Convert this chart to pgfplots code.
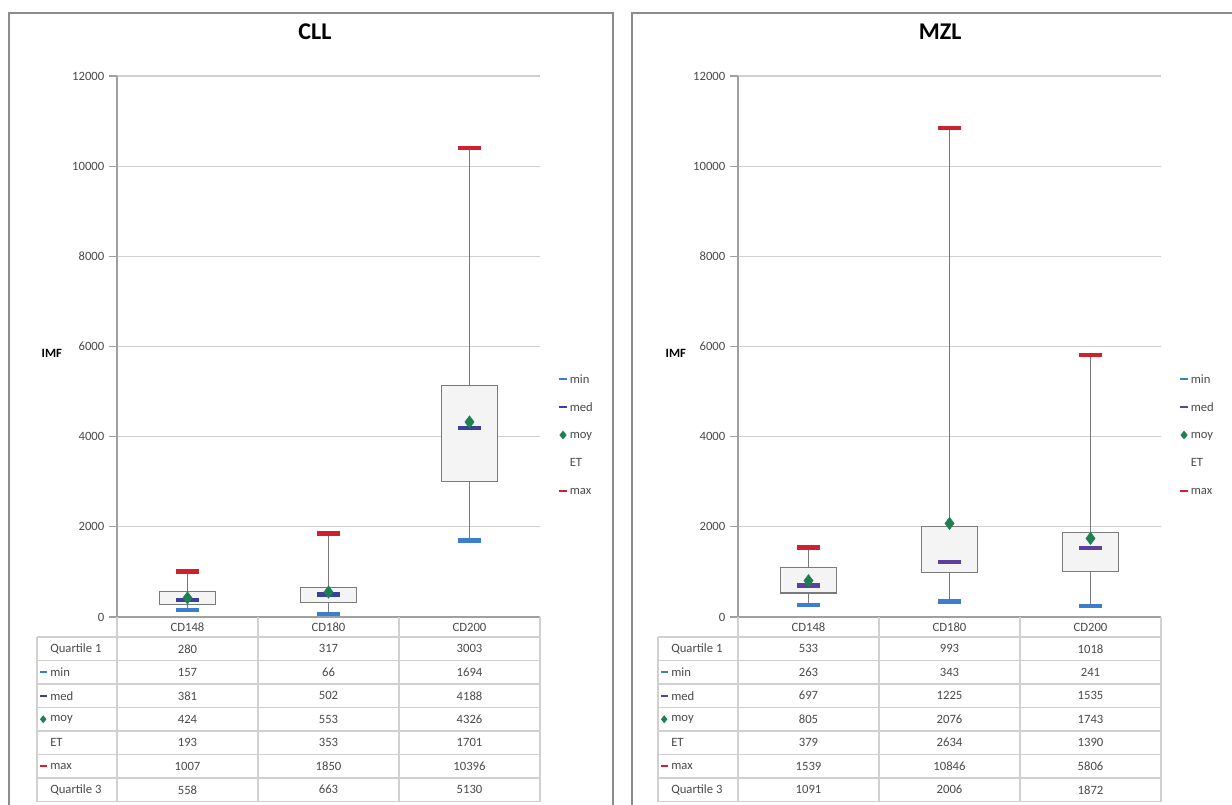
\documentclass[border=0pt]{standalone}
\usepackage{pgfplots}
\pgfplotsset{compat=1.18}
\usepackage{pgfplotstable}
\usepackage{fontspec}
\setmainfont{Carlito}

\definecolor{minc}{HTML}{3A7FCF}
\definecolor{medc}{HTML}{38409A}
\definecolor{medcb}{HTML}{5E3F9E}
\definecolor{moyc}{HTML}{1E8050}
\definecolor{maxc}{HTML}{D0202E}
\definecolor{gridc}{HTML}{D0D0D0}
\definecolor{axc}{HTML}{A0A0A0}
\definecolor{txt}{HTML}{4A4A4A}
\definecolor{boxfill}{HTML}{F4F4F4}
\definecolor{boxdraw}{HTML}{7A7A7A}
\definecolor{framec}{HTML}{8C8C8C}

\pgfplotstableread{
pos q1 min med moy et max q3
0 280 157 381 424 193 1007 558
1 317 66 502 553 353 1850 663
2 3003 1694 4188 4326 1701 10396 5130
}\cll

\pgfplotstableread{
pos q1 min med moy et max q3
0 533 263 697 805 379 1539 1091
1 993 343 1225 2076 2634 10846 2006
2 1018 241 1535 1743 1390 5806 1872
}\mzl

\newcommand{\smallfont}{\fontsize{9.5}{11}\selectfont}

\pgfplotsset{
  dashleg/.style={legend image code/.code={\draw[line width=1.6pt] (0pt,0pt) -- (5.5pt,0pt);}},
  diamleg/.style={legend image code/.code={\fill (2.75pt,2.9pt) -- (5.2pt,0pt) -- (2.75pt,-2.9pt) -- (0.3pt,0pt) -- cycle;}},
  noleg/.style={draw=none, fill=none, legend image code/.code={\path (0pt,0pt) -- (5.5pt,0pt);}},
  dmark/.style={only marks, mark=-, mark size=8.5pt, mark options={line width=3.2pt}, forget plot},
  whisk/.style={draw=boxdraw, line width=0.8pt, forget plot},
  bx/.style={fill=boxfill, draw=boxdraw, line width=0.9pt, forget plot},
  panel/.style={
    scale only axis, width=317.25pt, height=405.75pt, anchor=south west,
    xmin=-0.5, xmax=2.5, ymin=0, ymax=12000,
    ytick={0,2000,4000,6000,8000,10000,12000}, xtick=\empty,
    scaled y ticks=false,
    axis x line*=bottom, axis y line*=left,
    axis line style={axc, line width=0.8pt},
    ymajorgrids, grid style={gridc, line width=0.8pt},
    tick align=outside, major tick length=6pt,
    ytick style={axc, line width=0.8pt},
    yticklabel style={font=\smallfont, text=txt},
    /pgf/number format/1000 sep={}, /pgf/number format/assume math mode=true,
    title style={font=\fontsize{18}{20}\selectfont\bfseries, anchor=center},
    every axis y label/.style={anchor=center, font=\smallfont\bfseries},
    legend style={anchor=west, draw=none, fill=none, inner sep=0pt, row sep=12.6pt,
      font=\smallfont, text=txt,
      nodes={inner xsep=1.5pt, inner ysep=0pt, text height=1.5ex, text depth=0.25ex}},
    legend cell align=left,
  }
}

\newcommand{\datatable}[3]{%
\begin{scope}[x=0.75pt,y=-0.75pt,shift={(#1,0)}]
  \foreach \xx in {117,258,399,540} \draw[gridc, line width=0.8pt] (\xx,617) -- (\xx,801.5);
  \draw[gridc, line width=0.8pt] (37,637) -- (37,801.5);
  \foreach \k in {0,...,7} \draw[gridc, line width=0.8pt] (37,{637+23.5*\k}) -- (540,{637+23.5*\k});
  \foreach \c [count=\i from 0] in {CD148,CD180,CD200}
    \node[text=txt, font=\smallfont] at ({187.5+141*\i},627.5) {\c};
  \foreach \lab [count=\j from 0] in {Quartile 1,min,med,moy,ET,max,Quartile 3}
    \node[anchor=west, text=txt, font=\smallfont, inner xsep=0pt] at (50,{648.75+23.5*\j}) {\lab};
  \draw[minc, line width=1.6pt] (40,672.25) -- (46.5,672.25);
  \draw[#3, line width=1.6pt] (40,695.75) -- (46.5,695.75);
  \fill[moyc] (43.2,715.2) -- (46.4,719.25) -- (43.2,723.3) -- (40,719.25) -- cycle;
  \draw[maxc, line width=1.6pt] (40,766.25) -- (46.5,766.25);
  \foreach \f [count=\j from 0] in {q1,min,med,moy,et,max,q3}{
    \foreach \r in {0,1,2}{
      \pgfplotstablegetelem{\r}{\f}\of{#2}
      \node[text=txt, font=\smallfont] at ({187.5+141*\r},{648.75+23.5*\j}) {\pgfplotsretval};
    }
  }
\end{scope}}

\begin{document}
\begin{tikzpicture}
\useasboundingbox (0pt,0pt) rectangle (924pt,-603.75pt);
\begin{scope}[x=0.75pt,y=-0.75pt]
  \draw[framec, line width=1.1pt] (9,13) rectangle (613,840);
  \draw[framec, line width=1.1pt] (632,13) rectangle (1260,840);
\end{scope}

% ---------------- CLL ----------------
\begin{axis}[panel, at={(87.75pt,-462.75pt)},
  title={CLL}, title style={at={(axis description cs:0.468,1.0665)}},
  ylabel={IMF}, ylabel style={at={(axis description cs:-0.154,0.488)}},
  legend style={at={(axis description cs:1.0426,0.3364)}}]
\addlegendimage{dashleg, color=minc}
\addlegendimage{dashleg, color=medc}
\addlegendimage{diamleg, color=moyc}
\addlegendimage{noleg}
\addlegendimage{dashleg, color=maxc}
\legend{min,med,moy,ET,max}
\addplot[whisk] coordinates {(0,157) (0,1007)};
\addplot[whisk] coordinates {(1,66) (1,1850)};
\addplot[whisk] coordinates {(2,1694) (2,10396)};
\addplot[bx] coordinates {(-0.2,280) (0.2,280) (0.2,558) (-0.2,558)} -- cycle;
\addplot[bx] coordinates {(0.8,317) (1.2,317) (1.2,663) (0.8,663)} -- cycle;
\addplot[bx] coordinates {(1.8,3003) (2.2,3003) (2.2,5130) (1.8,5130)} -- cycle;
\addplot[dmark, color=medc] table[x=pos, y=med] {\cll};
\addplot[dmark, color=minc] table[x=pos, y=min] {\cll};
\addplot[dmark, color=maxc] table[x=pos, y=max] {\cll};
\addplot[only marks, mark=diamond*, mark size=4.6pt, color=moyc, forget plot] table[x=pos, y=moy] {\cll};
\end{axis}
\datatable{0}{\cll}{medc}

% ---------------- MZL ----------------
\begin{axis}[panel, at={(553.5pt,-462.75pt)},
  title={MZL}, title style={at={(axis description cs:0.478,1.0665)}},
  ylabel={IMF}, ylabel style={at={(axis description cs:-0.147,0.488)}},
  legend style={at={(axis description cs:1.0426,0.3364)}}]
\addlegendimage{dashleg, color=minc}
\addlegendimage{dashleg, color=medcb}
\addlegendimage{diamleg, color=moyc}
\addlegendimage{noleg}
\addlegendimage{dashleg, color=maxc}
\legend{min,med,moy,ET,max}
\addplot[whisk] coordinates {(0,263) (0,1539)};
\addplot[whisk] coordinates {(1,343) (1,10846)};
\addplot[whisk] coordinates {(2,241) (2,5806)};
\addplot[bx] coordinates {(-0.2,533) (0.2,533) (0.2,1091) (-0.2,1091)} -- cycle;
\addplot[bx] coordinates {(0.8,993) (1.2,993) (1.2,2006) (0.8,2006)} -- cycle;
\addplot[bx] coordinates {(1.8,1018) (2.2,1018) (2.2,1872) (1.8,1872)} -- cycle;
\addplot[dmark, color=medcb] table[x=pos, y=med] {\mzl};
\addplot[dmark, color=minc] table[x=pos, y=min] {\mzl};
\addplot[dmark, color=maxc] table[x=pos, y=max] {\mzl};
\addplot[only marks, mark=diamond*, mark size=4.6pt, color=moyc, forget plot] table[x=pos, y=moy] {\mzl};
\end{axis}
\datatable{621}{\mzl}{medcb}
\end{tikzpicture}
\end{document}
